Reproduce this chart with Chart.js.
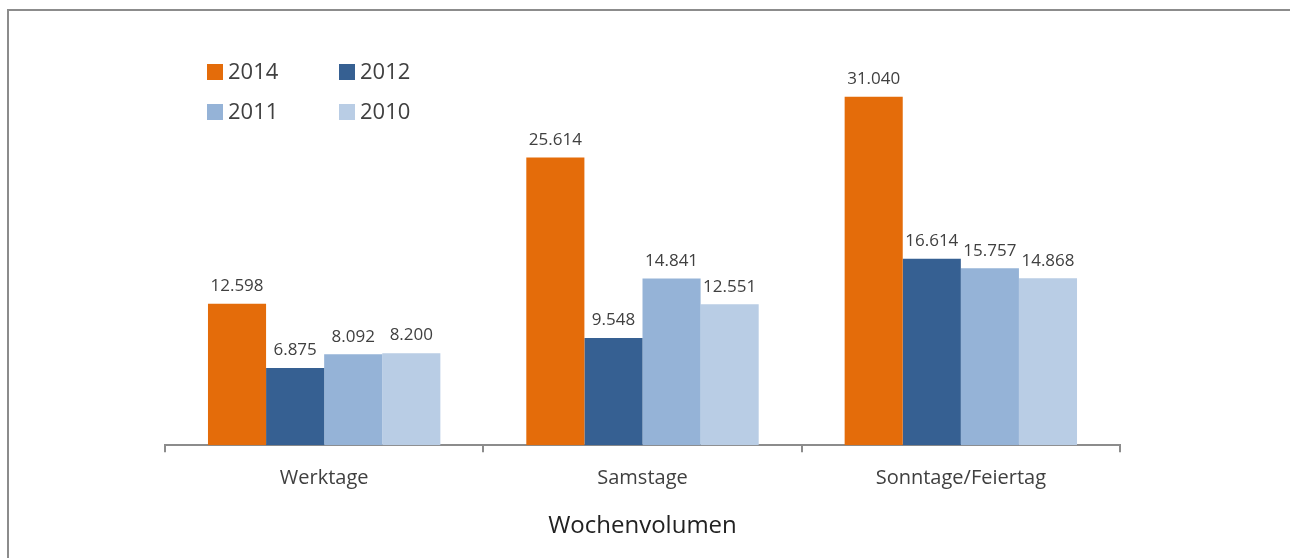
<!DOCTYPE html>
<html>
<head>
<meta charset="utf-8">
<script src="https://cdn.jsdelivr.net/npm/chart.js@4.4.0/dist/chart.umd.min.js"></script>
<style>
  html, body { margin: 0; background: #fff; font-family: "Open Sans", sans-serif; overflow: hidden; }
  #wrap { position: relative; width: 1290px; height: 558px; overflow: hidden; }
  #frame { position: absolute; left: 7px; top: 9px; width: 1290px; height: 700px;
           border-top: 2px solid #8c8c8c; border-left: 2px solid #8c8c8c; }
  #legend { position: absolute; left: 207px; top: 57px; font-size: 22px; color: #404040; }
  .item { position: absolute; white-space: nowrap; line-height: 26px; }
  .box { display: inline-block; width: 16px; height: 16px; margin-right: 5px; vertical-align: -1px; }
  canvas { position: absolute; left: 0; top: 0; }
</style>
</head>
<body>
<div id="wrap">
  <div id="frame"></div>
  <canvas id="chart" width="1290" height="558"></canvas>
  <div id="legend"></div>
</div>
<script>
document.addEventListener('DOMContentLoaded', function(){

    const categories = ["Werktage", "Samstage", "Sonntage/Feiertag"];
    const years = ["2014", "2012", "2011", "2010"];
    const values2014 = [12598, 25614, 31040];
    const values2012 = [6875, 9548, 16614];
    const values2011 = [8092, 14841, 15757];
    const values2010 = [8200, 12551, 14868];
    const colors = ["#E46C0A", "#366092", "#95B3D7", "#B9CDE5"];

    var series = [values2014, values2012, values2011, values2010];
    var datasets = [];
    for (var i = 0; i < years.length; i++) {
        datasets.push({
            label: years[i],
            data: series[i],
            backgroundColor: colors[i],
            borderWidth: 0,
            barPercentage: 1.0,
            categoryPercentage: 0.73
        });
    }

    // labels above the bars, german thousands separator
    const barLabels = {
        id: 'barLabels',
        afterDatasetsDraw(chart) {
            var ctx = chart.ctx;
            ctx.save();
            ctx.font = '17px "Open Sans", sans-serif';
            ctx.fillStyle = '#404040';
            ctx.textAlign = 'center';
            ctx.textBaseline = 'bottom';
            chart.data.datasets.forEach(function(ds, di){
                chart.getDatasetMeta(di).data.forEach(function(bar, j){
                    ctx.fillText(ds.data[j].toLocaleString('de-DE'), bar.x, bar.y - 9);
                });
            });
            ctx.restore();
        }
    };

    new Chart(document.getElementById("chart"), {
        type: 'bar',
        data: { labels: categories, datasets: datasets },
        plugins: [barLabels],
        options: {
            responsive: false,
            animation: false,
            layout: { padding: { left: 165, right: 170, top: 41, bottom: 13 } },
            plugins: {
                legend: { display: false },
                tooltip: { enabled: false }
            },
            scales: {
                y: {
                    display: false,
                    min: 0,
                    max: 36000
                },
                x: {
                    border: { color: '#8c8c8c', width: 2 },
                    grid: { drawOnChartArea: false, drawTicks: true, tickLength: 7, color: '#8c8c8c', lineWidth: 2 },
                    ticks: { color: '#404040', font: { family: '"Open Sans", sans-serif', size: 20 }, padding: 14 },
                    title: { display: true, text: 'Wochenvolumen', color: '#222', font: { family: '"Open Sans", sans-serif', size: 24 }, padding: { top: 8 } }
                }
            }
        }
    });

    var legend = document.getElementById("legend");
    for (var k = 0; k < years.length; k++) {
        var item = document.createElement('div');
        item.className = 'item';
        item.style.left = (k % 2) * 132 + 'px';
        item.style.top = Math.floor(k / 2) * 40 + 'px';
        item.innerHTML = '<span class="box" style="background:' + colors[k] + '"></span>' + years[k];
        legend.appendChild(item);
    }

}, false);
</script>
</body>
</html>
